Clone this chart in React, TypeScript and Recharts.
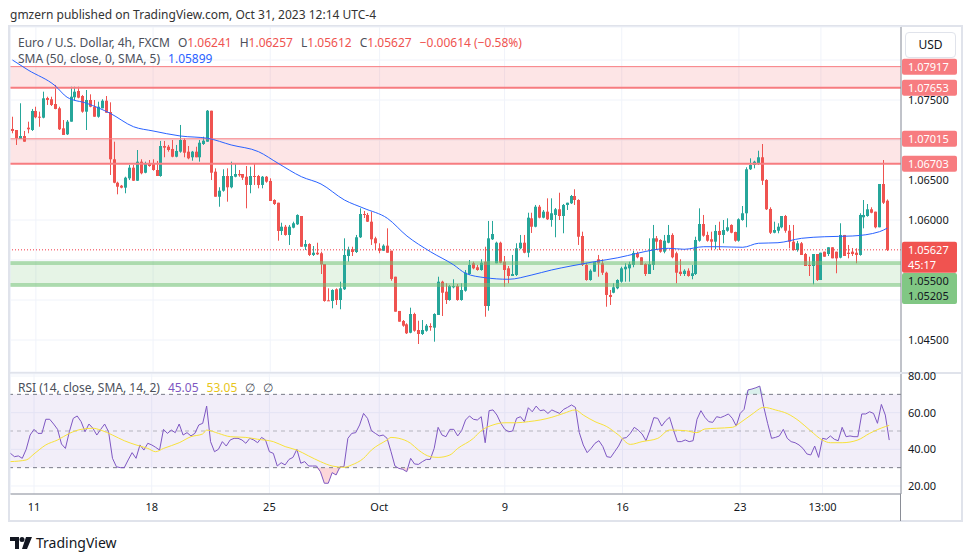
import React from "react";
import {
  ComposedChart,
  Bar,
  Line,
  Area,
  XAxis,
  YAxis,
  CartesianGrid,
  ReferenceLine,
  ReferenceArea,
} from "recharts";

// EUR/USD 4h candles, [open, high, low, close]
const candles: [number, number, number, number][] = [
  [1.07138, 1.07291, 1.07084, 1.07113],
  [1.07125, 1.07125, 1.06938, 1.07021],
  [1.07013, 1.07459, 1.07013, 1.0705],
  [1.0705, 1.07113, 1.06979, 1.06979],
  [1.07154, 1.07229, 1.07084, 1.07134],
  [1.07125, 1.07388, 1.07113, 1.07363],
  [1.07363, 1.07416, 1.07271, 1.07284],
  [1.07291, 1.07354, 1.07166, 1.07279],
  [1.07279, 1.07604, 1.07271, 1.07521],
  [1.07525, 1.07541, 1.07438, 1.075],
  [1.07509, 1.07541, 1.07425, 1.07438],
  [1.0745, 1.07688, 1.07384, 1.07388],
  [1.07396, 1.07416, 1.07125, 1.07134],
  [1.07146, 1.0725, 1.07063, 1.07063],
  [1.07071, 1.0725, 1.07063, 1.07229],
  [1.07229, 1.07666, 1.07229, 1.07541],
  [1.07534, 1.07666, 1.07491, 1.07604],
  [1.07613, 1.07666, 1.07521, 1.07529],
  [1.0755, 1.07563, 1.07341, 1.07354],
  [1.07354, 1.07625, 1.07125, 1.075],
  [1.075, 1.07571, 1.07409, 1.07416],
  [1.07416, 1.075, 1.07291, 1.07291],
  [1.07291, 1.07479, 1.07279, 1.07416],
  [1.07396, 1.07509, 1.07396, 1.07491],
  [1.07491, 1.0755, 1.07341, 1.07341],
  [1.0735, 1.07471, 1.06563, 1.06759],
  [1.06759, 1.06979, 1.06459, 1.06466],
  [1.06466, 1.06479, 1.06321, 1.06416],
  [1.06429, 1.06438, 1.06396, 1.06404],
  [1.06404, 1.06541, 1.06334, 1.06529],
  [1.06521, 1.06688, 1.065, 1.06654],
  [1.06654, 1.06688, 1.06488, 1.06491],
  [1.06491, 1.06875, 1.06488, 1.06729],
  [1.06729, 1.06759, 1.06571, 1.06584],
  [1.06591, 1.06729, 1.06584, 1.06709],
  [1.067, 1.0675, 1.06666, 1.06675],
  [1.067, 1.06759, 1.06616, 1.06625],
  [1.06625, 1.06738, 1.0655, 1.0655],
  [1.0655, 1.06988, 1.06541, 1.06925],
  [1.06925, 1.06988, 1.06784, 1.06904],
  [1.06916, 1.06938, 1.06854, 1.06875],
  [1.06888, 1.07, 1.06784, 1.06791],
  [1.06791, 1.06938, 1.06784, 1.06863],
  [1.06854, 1.07188, 1.06841, 1.07],
  [1.07, 1.07021, 1.06784, 1.06841],
  [1.06854, 1.06925, 1.06759, 1.06771],
  [1.06784, 1.06863, 1.06741, 1.06854],
  [1.06854, 1.06916, 1.06784, 1.06784],
  [1.06784, 1.07, 1.06729, 1.06966],
  [1.0695, 1.07041, 1.06938, 1.06991],
  [1.06979, 1.07375, 1.06979, 1.07366],
  [1.07366, 1.07366, 1.065, 1.06591],
  [1.06604, 1.06646, 1.06291, 1.06291],
  [1.06291, 1.06409, 1.06166, 1.06366],
  [1.06366, 1.06634, 1.06354, 1.0655],
  [1.0655, 1.06646, 1.06229, 1.06409],
  [1.06409, 1.06729, 1.06396, 1.0655],
  [1.06541, 1.06709, 1.06534, 1.06575],
  [1.06575, 1.06625, 1.06541, 1.06559],
  [1.06575, 1.06575, 1.065, 1.06529],
  [1.06541, 1.06675, 1.06146, 1.06438],
  [1.06438, 1.06666, 1.06334, 1.0655],
  [1.0655, 1.06709, 1.06438, 1.06541],
  [1.0655, 1.06563, 1.06396, 1.06438],
  [1.06438, 1.0655, 1.06396, 1.06541],
  [1.06541, 1.0655, 1.06466, 1.06479],
  [1.06488, 1.06521, 1.06238, 1.06238],
  [1.0625, 1.06259, 1.06188, 1.062],
  [1.06216, 1.06216, 1.05741, 1.05863],
  [1.05863, 1.05966, 1.05813, 1.05916],
  [1.05916, 1.05938, 1.05804, 1.05813],
  [1.05813, 1.05938, 1.05688, 1.05916],
  [1.05904, 1.05979, 1.05896, 1.05959],
  [1.05946, 1.06071, 1.05938, 1.06063],
  [1.0605, 1.0605, 1.05666, 1.05666],
  [1.05666, 1.0575, 1.05625, 1.057],
  [1.057, 1.05709, 1.0555, 1.05563],
  [1.05563, 1.05675, 1.0555, 1.05591],
  [1.05591, 1.05716, 1.05563, 1.05571],
  [1.05584, 1.05604, 1.05325, 1.05446],
  [1.0545, 1.0545, 1.04979, 1.04988],
  [1.04996, 1.05146, 1.04988, 1.04988],
  [1.04988, 1.05134, 1.04896, 1.05125],
  [1.05134, 1.05146, 1.04938, 1.05],
  [1.05, 1.05229, 1.04884, 1.05146],
  [1.05134, 1.05771, 1.05125, 1.05563],
  [1.0555, 1.05666, 1.05479, 1.05634],
  [1.05634, 1.05666, 1.0555, 1.056],
  [1.056, 1.05813, 1.05588, 1.05784],
  [1.05784, 1.06146, 1.05775, 1.06075],
  [1.06075, 1.06113, 1.06025, 1.06063],
  [1.06063, 1.06088, 1.05975, 1.05979],
  [1.05979, 1.06104, 1.05688, 1.05759],
  [1.05771, 1.05791, 1.05625, 1.05709],
  [1.05646, 1.05709, 1.05584, 1.05616],
  [1.05616, 1.05696, 1.05613, 1.05679],
  [1.05679, 1.05896, 1.05591, 1.05591],
  [1.05616, 1.05616, 1.05241, 1.05263],
  [1.05291, 1.05291, 1.04854, 1.04854],
  [1.04863, 1.04863, 1.04729, 1.04729],
  [1.04738, 1.0475, 1.04666, 1.04679],
  [1.04696, 1.04709, 1.04575, 1.04584],
  [1.04591, 1.04904, 1.04584, 1.04825],
  [1.04825, 1.04841, 1.04604, 1.04616],
  [1.04625, 1.04741, 1.0445, 1.04575],
  [1.04575, 1.0475, 1.04563, 1.04625],
  [1.04616, 1.047, 1.04604, 1.04679],
  [1.04675, 1.04709, 1.04616, 1.04659],
  [1.04654, 1.04834, 1.04479, 1.04825],
  [1.04813, 1.05291, 1.04813, 1.05229],
  [1.05229, 1.05241, 1.048, 1.05091],
  [1.05104, 1.05209, 1.0495, 1.05],
  [1.05, 1.05188, 1.04991, 1.05175],
  [1.05159, 1.05259, 1.05146, 1.05175],
  [1.05175, 1.052, 1.04991, 1.05],
  [1.05, 1.05209, 1.04991, 1.05125],
  [1.05116, 1.05375, 1.05104, 1.05341],
  [1.05325, 1.055, 1.05313, 1.05438],
  [1.05459, 1.05479, 1.05384, 1.05396],
  [1.05409, 1.05438, 1.05366, 1.05375],
  [1.05375, 1.05509, 1.05366, 1.05466],
  [1.05479, 1.05666, 1.04791, 1.04925],
  [1.04925, 1.05988, 1.04866, 1.05771],
  [1.05759, 1.05988, 1.0575, 1.05825],
  [1.05459, 1.05729, 1.05459, 1.05716],
  [1.05716, 1.05729, 1.05459, 1.05466],
  [1.05479, 1.0555, 1.05166, 1.05375],
  [1.05396, 1.05425, 1.05209, 1.053],
  [1.053, 1.05563, 1.053, 1.05325],
  [1.05313, 1.05709, 1.053, 1.05646],
  [1.05646, 1.05813, 1.05634, 1.05716],
  [1.05716, 1.05813, 1.05584, 1.05591],
  [1.05591, 1.06091, 1.05534, 1.06029],
  [1.06021, 1.06091, 1.05838, 1.05916],
  [1.05916, 1.06188, 1.05909, 1.06166],
  [1.06166, 1.06188, 1.06021, 1.06029],
  [1.06029, 1.06125, 1.06021, 1.06104],
  [1.06104, 1.06271, 1.06, 1.06009],
  [1.06, 1.06271, 1.05916, 1.06084],
  [1.06063, 1.0615, 1.05784, 1.06134],
  [1.06134, 1.06341, 1.06, 1.0605],
  [1.0605, 1.062, 1.05834, 1.06188],
  [1.06188, 1.06216, 1.06125, 1.06216],
  [1.06209, 1.06313, 1.062, 1.063],
  [1.063, 1.06384, 1.06188, 1.0625],
  [1.0625, 1.06259, 1.05688, 1.05791],
  [1.058, 1.05854, 1.05425, 1.05438],
  [1.05438, 1.05466, 1.05241, 1.0525],
  [1.0525, 1.05384, 1.05241, 1.05366],
  [1.05354, 1.05479, 1.05354, 1.05475],
  [1.05509, 1.05563, 1.05291, 1.05459],
  [1.05459, 1.05509, 1.05313, 1.05341],
  [1.05341, 1.05354, 1.04916, 1.05063],
  [1.05063, 1.05125, 1.04938, 1.05038],
  [1.05091, 1.05209, 1.05084, 1.05159],
  [1.05146, 1.05259, 1.05134, 1.0525],
  [1.05229, 1.05416, 1.05216, 1.05396],
  [1.05384, 1.05459, 1.05229, 1.05416],
  [1.05396, 1.05479, 1.05229, 1.0545],
  [1.05438, 1.05616, 1.05409, 1.05588],
  [1.05584, 1.05604, 1.05521, 1.05534],
  [1.05534, 1.05534, 1.05438, 1.05438],
  [1.0545, 1.05459, 1.053, 1.05325],
  [1.05325, 1.05771, 1.05325, 1.0545],
  [1.05438, 1.05938, 1.05375, 1.05771],
  [1.05771, 1.058, 1.05625, 1.05729],
  [1.0575, 1.05759, 1.05591, 1.05604],
  [1.05604, 1.05813, 1.05584, 1.05741],
  [1.05716, 1.05938, 1.05709, 1.05813],
  [1.05813, 1.05834, 1.05521, 1.05534],
  [1.05584, 1.05604, 1.05209, 1.05341],
  [1.05354, 1.05509, 1.053, 1.05325],
  [1.05325, 1.05384, 1.053, 1.05366],
  [1.05366, 1.05396, 1.05291, 1.053],
  [1.053, 1.05438, 1.05259, 1.05334],
  [1.05325, 1.05791, 1.05313, 1.0575],
  [1.05741, 1.06146, 1.05729, 1.0595],
  [1.0595, 1.06063, 1.05791, 1.05804],
  [1.05813, 1.05854, 1.05729, 1.05741],
  [1.05759, 1.05854, 1.05625, 1.05729],
  [1.05729, 1.05938, 1.05634, 1.05863],
  [1.05863, 1.05979, 1.05625, 1.05813],
  [1.05813, 1.06, 1.05709, 1.05875],
  [1.05866, 1.06021, 1.05854, 1.05909],
  [1.05938, 1.05946, 1.05834, 1.05841],
  [1.0585, 1.05854, 1.05729, 1.05741],
  [1.05741, 1.06021, 1.05729, 1.06009],
  [1.06, 1.06175, 1.05991, 1.06084],
  [1.06084, 1.06659, 1.05909, 1.06634],
  [1.06634, 1.06771, 1.06625, 1.06688],
  [1.06688, 1.06741, 1.06646, 1.06729],
  [1.06709, 1.06866, 1.06688, 1.06784],
  [1.06784, 1.0695, 1.06438, 1.06491],
  [1.065, 1.06509, 1.06125, 1.06134],
  [1.06138, 1.06159, 1.05825, 1.05841],
  [1.05841, 1.05979, 1.05834, 1.05875],
  [1.05866, 1.05959, 1.05834, 1.05916],
  [1.05909, 1.0605, 1.05896, 1.0605],
  [1.0605, 1.06063, 1.05841, 1.05866],
  [1.05866, 1.05938, 1.05646, 1.05729],
  [1.05729, 1.05938, 1.05616, 1.05625],
  [1.05625, 1.05738, 1.05604, 1.05709],
  [1.05709, 1.05725, 1.05563, 1.05563],
  [1.05575, 1.05588, 1.05425, 1.05425],
  [1.05438, 1.05541, 1.053, 1.05429],
  [1.05425, 1.05575, 1.05196, 1.05575],
  [1.05575, 1.05575, 1.05238, 1.0525],
  [1.0525, 1.05591, 1.0525, 1.05591],
  [1.05604, 1.05604, 1.05541, 1.05541],
  [1.05575, 1.05659, 1.0555, 1.05659],
  [1.05659, 1.05659, 1.05521, 1.05521],
  [1.05604, 1.05604, 1.05334, 1.05521],
  [1.05529, 1.05959, 1.05521, 1.05813],
  [1.05813, 1.05813, 1.0555, 1.0555],
  [1.05591, 1.05688, 1.05521, 1.05575],
  [1.05604, 1.0565, 1.0555, 1.05575],
  [1.05591, 1.05646, 1.05459, 1.05563],
  [1.05563, 1.06084, 1.05554, 1.06063],
  [1.06034, 1.0625, 1.05896, 1.06063],
  [1.0605, 1.062, 1.06041, 1.06134],
  [1.06134, 1.06159, 1.06084, 1.06091],
  [1.06104, 1.06104, 1.05896, 1.05909],
  [1.05909, 1.0645, 1.05909, 1.0645],
  [1.0645, 1.0675, 1.062, 1.06216],
  [1.06241, 1.06257, 1.05612, 1.05627],
];

// SMA(50), [bar index, value]
const smaPoints: [number, number][] = [
  [0, 1.08], [4, 1.07875], [11, 1.07675], [14, 1.07534], [19, 1.07459],
  [25, 1.07334], [31, 1.07166], [36, 1.07113], [43, 1.0705], [50, 1.07021],
  [56, 1.06938], [63, 1.06854], [68, 1.06709], [74, 1.06541], [79, 1.0645],
  [85, 1.0625], [90, 1.06146], [96, 1.06021], [101, 1.058], [107, 1.05604],
  [113, 1.05438], [116, 1.05334], [121, 1.05279], [127, 1.05259], [133, 1.05313],
  [138, 1.05375], [143, 1.05425], [149, 1.05479], [155, 1.05528], [160, 1.05584],
  [164, 1.05625], [168, 1.05646], [172, 1.05634], [177, 1.05666], [181, 1.05666],
  [187, 1.05659], [191, 1.05709], [196, 1.05716], [202, 1.05771], [208, 1.05791],
  [215, 1.058], [222, 1.05854], [224, 1.05899],
];

// RSI(14), one value per bar
const rsi: number[] = [
  37.8, 36.0, 36.4, 35.1, 40.0, 47.8, 50.9, 48.7, 48.7, 56.4,
  56.4, 53.8, 50.9, 42.9, 40.5, 49.6, 56.9, 58.2, 55.1, 49.6,
  53.8, 51.5, 47.8, 50.9, 53.8, 49.6, 35.1, 30.5, 30.0, 30.0,
  34.2, 38.2, 35.1, 42.4, 39.6, 43.3, 42.4, 41.1, 39.6, 50.9,
  48.7, 50.5, 49.1, 53.8, 47.8, 49.1, 47.3, 48.7, 53.3, 54.2,
  63.6, 44.2, 38.7, 40.0, 44.2, 41.8, 45.1, 46.0, 46.0, 45.1,
  43.3, 46.0, 45.1, 43.6, 46.5, 45.1, 38.7, 37.8, 30.9, 32.7,
  31.5, 34.5, 35.6, 40.0, 32.4, 33.3, 30.9, 30.9, 30.9, 27.8,
  21.5, 21.5, 27.3, 26.0, 30.5, 30.5, 46.0, 48.7, 49.1, 53.3,
  59.6, 56.9, 50.2, 48.7, 47.3, 47.8, 46.0, 38.7, 30.9, 29.6,
  29.1, 27.8, 35.1, 32.0, 31.8, 33.3, 34.5, 34.5, 40.5, 52.0,
  47.8, 46.9, 50.9, 50.9, 47.3, 50.2, 56.0, 58.2, 56.4, 56.0,
  57.8, 43.6, 61.1, 61.5, 58.7, 54.2, 50.9, 49.6, 50.0, 56.9,
  57.8, 55.1, 62.7, 60.5, 63.6, 61.1, 61.5, 59.6, 61.5, 60.5,
  59.6, 61.8, 62.9, 64.2, 62.9, 49.1, 42.4, 38.2, 40.5, 43.3,
  44.7, 41.5, 36.0, 35.6, 38.7, 41.8, 46.0, 46.4, 48.7, 52.0,
  50.5, 48.4, 44.7, 50.5, 57.3, 56.9, 52.7, 55.6, 57.5, 50.5,
  44.2, 44.2, 45.1, 44.2, 44.7, 56.4, 61.1, 57.5, 55.1, 54.7,
  57.8, 57.3, 58.2, 59.3, 56.9, 52.7, 59.6, 61.8, 72.4, 72.9,
  73.6, 74.5, 63.3, 54.2, 46.0, 46.5, 47.3, 50.9, 46.0, 44.2,
  43.6, 42.4, 40.5, 37.5, 36.9, 41.8, 35.6, 46.0, 45.5, 47.3,
  45.5, 44.7, 52.0, 46.9, 47.3, 46.9, 46.9, 59.3, 59.3, 60.5,
  59.6, 54.2, 64.5, 58.7, 45.05,
];

// RSI-based MA, [bar index, value]
const rsiMaPoints: [number, number][] = [
  [0, 33.3], [4, 34.2], [6, 37.5], [9, 42.4], [12, 45.1], [15, 48.7],
  [18, 50.9], [21, 51.5], [23, 50.5], [26, 47.8], [29, 44.7], [32, 42.4],
  [35, 40.5], [37, 38.7], [39, 40.5], [43, 43.6], [46, 46.9], [49, 48.4],
  [50, 50.5], [53, 48.7], [56, 46.9], [60, 46.5], [63, 45.5], [67, 44.2],
  [70, 41.5], [73, 39.6], [76, 36.4], [79, 33.3], [82, 30.9], [85, 30.2],
  [87, 31.5], [90, 35.1], [92, 39.6], [96, 45.1], [97, 46.5], [99, 46.0],
  [102, 43.3], [104, 39.6], [107, 36.0], [109, 35.6], [112, 36.9], [114, 40.5],
  [118, 46.0], [120, 50.2], [123, 53.3], [126, 54.5], [129, 54.5], [132, 55.1],
  [135, 56.0], [138, 57.5], [141, 59.6], [144, 61.5], [146, 58.7], [149, 55.1],
  [152, 52.4], [155, 47.8], [158, 42.7], [161, 44.2], [165, 46.0], [168, 50.5],
  [172, 50.2], [175, 49.1], [177, 51.1], [180, 51.5], [184, 52.0], [186, 54.5],
  [189, 59.1], [192, 62.9], [195, 61.5], [198, 59.5], [201, 55.5], [204, 50.0],
  [207, 45.0], [209, 43.6], [212, 43.6], [216, 45.1], [219, 48.7], [223, 52.4],
  [224, 53.05],
];

const dayTicks = [6, 36, 66, 94, 126, 156, 186, 207];
const dayLabels = ["11", "18", "25", "Oct", "9", "16", "23", "13:00"];

const priceGrid = [1.045, 1.05, 1.055, 1.06, 1.065, 1.07, 1.075, 1.08];
const priceShown = [1.045, 1.06, 1.065, 1.075];
const rsiTicks = [20, 40, 60, 80];

const FONT = "'Noto Sans', 'Open Sans', sans-serif";
const UP = "#26a69a";
const DOWN = "#ef5350";
const SALMON = "#f77c80";
const GREEN = "#81c784";
const GREEN_LINE = "#72c177";

const smaMap = new Map(smaPoints);
const maMap = new Map(rsiMaPoints);

const rows = Array.from({ length: 228 }, (_, i) => {
  const c = candles[i];
  const r = rsi[i];
  return {
    i,
    range: c ? [c[2], c[1]] : null,
    o: c ? c[0] : null,
    h: c ? c[1] : null,
    l: c ? c[2] : null,
    c: c ? c[3] : null,
    sma: smaMap.has(i) ? smaMap.get(i) : null,
    rsi: r ?? null,
    rsiMa: maMap.has(i) ? maMap.get(i) : null,
    os: r == null ? null : [Math.min(r, 30), 30],
    ob: r == null ? null : [70, Math.max(r, 70)],
  };
});

function Candle(props: any) {
  const { x, y, width, height, payload } = props;
  if (!payload || payload.o == null) return null;
  const { o, h, l, c } = payload;
  const top = Math.min(y, y + height);
  const hgt = Math.abs(height);
  const span = h - l;
  const py = (p: number) => (span === 0 ? top : top + ((h - p) / span) * hgt);
  const cx = Math.floor(x + width / 2) + 0.5;
  const color = c >= o ? UP : DOWN;
  const bTop = py(Math.max(o, c));
  const bBot = py(Math.min(o, c));
  return (
    <g>
      <line x1={cx} x2={cx} y1={top} y2={top + hgt} stroke={color} strokeWidth={1} />
      <rect x={cx - 1.5} y={bTop} width={3} height={Math.max(1, bBot - bTop)} fill={color} />
    </g>
  );
}

function PriceTick(props: any) {
  const { x, y, payload } = props;
  if (!priceShown.some((v) => Math.abs(v - payload.value) < 1e-7)) return <g />;
  return (
    <text x={x} y={y} dy={4} fill="#131722" fontSize={11} fontFamily={FONT}>
      {payload.value.toFixed(5)}
    </text>
  );
}

function AxisTag(props: any) {
  const { viewBox, text, sub, bg, color, dy = 0 } = props;
  if (!viewBox) return null;
  const x = viewBox.x + viewBox.width;
  const y = viewBox.y + dy;
  const h = sub ? 31 : 16;
  return (
    <g>
      <rect x={x + 1} y={y - 8} width={55} height={h} rx={2} fill={bg} />
      <text x={x + 7} y={y + 4} fill={color} fontSize={11} fontFamily={FONT}>
        {text}
      </text>
      {sub && (
        <text x={x + 7} y={y + 19} fill={color} fontSize={11} fontFamily={FONT}>
          {sub}
        </text>
      )}
    </g>
  );
}

function Logo() {
  return (
    <svg width="22" height="12" viewBox="0 0 22 12">
      <path d="M0 0h9v12H5V4H0z" fill="#131722" />
      <circle cx="12" cy="2.5" r="2.5" fill="#131722" />
      <path d="M16 0h6l-5 12h-5z" fill="#131722" />
    </svg>
  );
}

export default function App() {
  const gray = "#131722";
  return (
    <div
      style={{
        position: "fixed",
        left: 0,
        top: 0,
        width: 970,
        height: 557,
        background: "#fff",
        overflow: "hidden",
        fontFamily: FONT,
      }}
    >
      <div style={{ position: "absolute", left: 10, top: 6, fontSize: 12, color: "#333" }}>
        gmzern published on TradingView.com, Oct 31, 2023 12:14 UTC-4
      </div>
      <div
        style={{
          position: "absolute",
          left: 8,
          top: 25,
          width: 955,
          height: 497,
          border: "2px solid #e0e3eb",
          boxSizing: "border-box",
        }}
      />

      <div style={{ position: "absolute", left: 0, top: 0 }}>
        <ComposedChart
          width={970}
          height={372}
          data={rows}
          margin={{ top: 27, right: 9, left: 10.5, bottom: 0 }}
          barCategoryGap={0}
        >
          <CartesianGrid stroke="#f0f3fa" />
          <XAxis dataKey="i" type="category" hide ticks={dayTicks} interval={0} />
          <YAxis
            orientation="right"
            width={60}
            type="number"
            domain={[1.041, 1.084125]}
            allowDataOverflow
            ticks={priceGrid}
            tick={<PriceTick />}
            tickSize={0}
            tickMargin={7}
            axisLine={{ stroke: "#8a8d96" }}
            tickLine={false}
          />
          <ReferenceArea y1={1.07653} y2={1.07917} fill={SALMON} fillOpacity={0.2} stroke="none" />
          <ReferenceArea y1={1.06703} y2={1.07015} fill={SALMON} fillOpacity={0.2} stroke="none" />
          <ReferenceArea y1={1.05175} y2={1.05475} fill={GREEN} fillOpacity={0.2} stroke="none" />
          <ReferenceLine y={1.05475} stroke={GREEN_LINE} strokeWidth={1} />
          <ReferenceLine y={1.0545} stroke={GREEN_LINE} strokeWidth={1} />
          <ReferenceLine y={1.052} stroke={GREEN_LINE} strokeWidth={1} />
          <ReferenceLine y={1.05175} stroke={GREEN_LINE} strokeWidth={1} />
          <ReferenceLine
            y={1.07917}
            stroke={SALMON}
            strokeWidth={1}
            label={<AxisTag text="1.07917" bg={SALMON} color="#fff" />}
          />
          <ReferenceLine
            y={1.07653}
            stroke={SALMON}
            strokeWidth={2}
            label={<AxisTag text="1.07653" bg={SALMON} color="#fff" />}
          />
          <ReferenceLine
            y={1.07015}
            stroke={SALMON}
            strokeWidth={1}
            label={<AxisTag text="1.07015" bg={SALMON} color="#fff" />}
          />
          <ReferenceLine
            y={1.06703}
            stroke={SALMON}
            strokeWidth={2}
            label={<AxisTag text="1.06703" bg={SALMON} color="#fff" />}
          />
          <ReferenceLine
            y={1.05627}
            stroke="#f23645"
            strokeDasharray="1 2"
            label={<AxisTag text="1.05627" sub="45:17" bg="#f05350" color="#fff" />}
          />
          <ReferenceLine
            y={1.055}
            stroke="none"
            label={<AxisTag text="1.05500" sub="1.05205" bg={GREEN} color={gray} dy={21} />}
          />
          <Bar dataKey="range" shape={<Candle />} isAnimationActive={false} />
          <Line
            dataKey="sma"
            type="monotone"
            connectNulls
            stroke="#2962ff"
            strokeWidth={1}
            dot={false}
            isAnimationActive={false}
          />
        </ComposedChart>
      </div>

      <div style={{ position: "absolute", left: 9, top: 372, width: 952, height: 2, background: "#e0e3eb" }} />

      <div style={{ position: "absolute", left: 0, top: 364 }}>
        <ComposedChart
          width={970}
          height={157}
          data={rows}
          margin={{ top: 10, right: 9, left: 10.5, bottom: 0 }}
        >
          <CartesianGrid stroke="#f0f3fa" />
          <XAxis
            dataKey="i"
            type="category"
            ticks={dayTicks}
            interval={0}
            height={27}
            tickFormatter={(v: number) => dayLabels[dayTicks.indexOf(v)] ?? ""}
            tick={{ fontSize: 11, fill: gray, fontFamily: FONT }}
            tickSize={0}
            tickMargin={9}
            axisLine={{ stroke: "#8a8d96" }}
            tickLine={false}
          />
          <YAxis
            orientation="right"
            width={60}
            type="number"
            domain={[15.63, 81.1]}
            allowDataOverflow
            ticks={rsiTicks}
            tickFormatter={(v: number) => v.toFixed(2)}
            tick={{ fontSize: 11, fill: gray, fontFamily: FONT, textAnchor: "start" }}
            tickSize={0}
            tickMargin={7}
            axisLine={{ stroke: "#8a8d96" }}
            tickLine={false}
          />
          <ReferenceArea y1={30} y2={70} fill="#7e57c2" fillOpacity={0.1} stroke="none" />
          <ReferenceLine y={70} stroke="#787b86" strokeDasharray="4 4" />
          <ReferenceLine y={50} stroke="#787b86" strokeOpacity={0.5} strokeDasharray="4 4" />
          <ReferenceLine y={30} stroke="#787b86" strokeDasharray="4 4" />
          <Area dataKey="os" type="linear" stroke="none" fill="#f23645" fillOpacity={0.2} isAnimationActive={false} />
          <Area dataKey="ob" type="linear" stroke="none" fill="#089981" fillOpacity={0.15} isAnimationActive={false} />
          <Line dataKey="rsi" type="linear" stroke="#7e57c2" strokeWidth={1} dot={false} isAnimationActive={false} />
          <Line
            dataKey="rsiMa"
            type="monotone"
            connectNulls
            stroke="#f7e13b"
            strokeWidth={1}
            dot={false}
            isAnimationActive={false}
          />
        </ComposedChart>
      </div>

      <div style={{ position: "absolute", left: 900, top: 494, width: 1, height: 27, background: "#8a8d96" }} />

      <div
        style={{
          position: "absolute",
          left: 905,
          top: 32,
          width: 51,
          height: 26,
          border: "1px solid #e0e3eb",
          borderRadius: 4,
          boxSizing: "border-box",
          fontSize: 12,
          color: gray,
          textAlign: "center",
          lineHeight: "24px",
          background: "#fff",
        }}
      >
        USD
      </div>

      <div style={{ position: "absolute", left: 18, top: 34, fontSize: 12, color: "#131722", whiteSpace: "nowrap" }}>
        <span style={{ color: "#4b4f5a" }}>Euro / U.S. Dollar, 4h, FXCM</span>
        <span style={{ marginLeft: 8, color: "#4b4f5a" }}>O</span>
        <span style={{ color: DOWN }}>1.06241</span>
        <span style={{ marginLeft: 8, color: "#4b4f5a" }}>H</span>
        <span style={{ color: DOWN }}>1.06257</span>
        <span style={{ marginLeft: 8, color: "#4b4f5a" }}>L</span>
        <span style={{ color: DOWN }}>1.05612</span>
        <span style={{ marginLeft: 8, color: "#4b4f5a" }}>C</span>
        <span style={{ color: DOWN }}>1.05627</span>
        <span style={{ marginLeft: 8, color: DOWN }}>−0.00614 (−0.58%)</span>
      </div>
      <div style={{ position: "absolute", left: 18, top: 50, fontSize: 12, whiteSpace: "nowrap" }}>
        <span style={{ color: "#4b4f5a" }}>SMA (50, close, 0, SMA, 5)</span>
        <span style={{ marginLeft: 8, color: "#2962ff" }}>1.05899</span>
      </div>
      <div style={{ position: "absolute", left: 18, top: 379, fontSize: 12, whiteSpace: "nowrap" }}>
        <span style={{ color: "#4b4f5a" }}>RSI (14, close, SMA, 14, 2)</span>
        <span style={{ marginLeft: 8, color: "#7e57c2" }}>45.05</span>
        <span style={{ marginLeft: 8, color: "#e8c51a" }}>53.05</span>
        <span style={{ marginLeft: 8, color: "#4b4f5a" }}>∅</span>
        <span style={{ marginLeft: 8, color: "#4b4f5a" }}>∅</span>
      </div>

      <div style={{ position: "absolute", left: 10, top: 533, display: "flex", alignItems: "center", gap: 4 }}>
        <Logo />
        <span style={{ fontSize: 14, color: "#131722" }}>TradingView</span>
      </div>
    </div>
  );
}
